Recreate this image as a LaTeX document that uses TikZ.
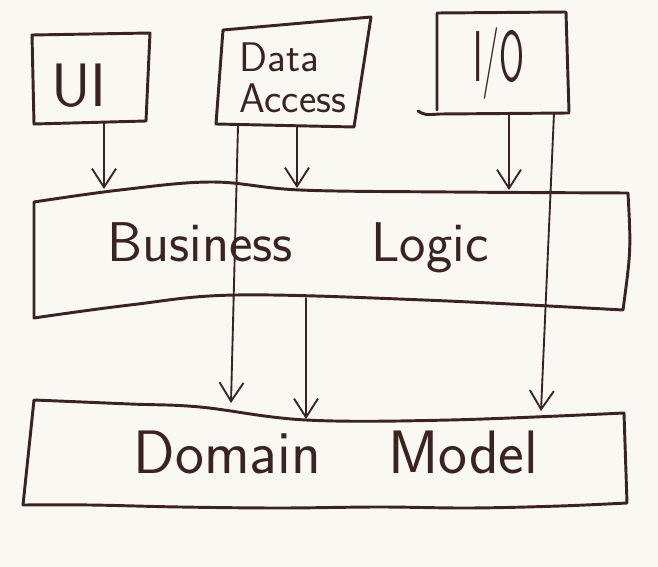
\documentclass[tikz,border=0pt]{standalone}
\usepackage{tikz}
\usetikzlibrary{arrows.meta}

\definecolor{ink}{HTML}{3A2320}
\definecolor{paper}{HTML}{FAF8F3}

\tikzset{
  pen/.style={draw=ink, line width=2.2pt, line join=round, line cap=round},
  arr/.style={draw=ink, line width=1.4pt, line cap=round,
    -{Straight Barb[length=14pt,width=18pt,line width=1.4pt]}},
  lbl/.style={text=ink, inner sep=0pt},
}

\begin{document}
\begin{tikzpicture}[x=0.75pt, y=-0.75pt]
    \fill[paper] (0,0) rectangle (658,567);
    \useasboundingbox (0,0) rectangle (658,567);

    % top boxes
    \draw[pen] (32,35) -- (150,33) -- (146,121) -- (34,124) -- cycle;
    \draw[pen] (223,30) -- (371,17) -- (354,127) -- (216,124) -- cycle;
    \draw[pen] (437,110) -- (437,13) -- (566,12) -- (569,112);
    \draw[pen] (418,111) .. controls (425,115) .. (440,114) -- (569,113);

    % business logic
    \draw[pen] plot[smooth, tension=0.6] coordinates {(34,202) (120,190) (212,182) (300,190) (450,192) (628,193)}
        .. controls (631,250) .. (623,310)
        -- plot[smooth, tension=0.6] coordinates {(623,310) (424,300) (236,295) (130,305) (34,318)} -- cycle;

    % domain model
    \draw[pen] plot[smooth, tension=0.6] coordinates {(34,400) (130,404) (200,407) (306,420) (450,420) (624,413)}
        -- (627,503)
        -- plot[smooth, tension=0.6] coordinates {(627,503) (560,506) (470,508) (380,507) (280,508) (180,507) (90,505) (23,505)} -- cycle;

    % labels
    \node[lbl, font=\sffamily\fontsize{46}{48}\selectfont] (ui) at (79,86) {UI};
    \node[lbl, font=\sffamily\fontsize{31}{31}\selectfont, align=left] (data) at (293,78) {Data\\Access};
    \node[lbl, font=\sffamily\fontsize{54}{56}\selectfont] (io) at (499,64) {\scalebox{0.5}[1]{I/O}};
    \node[lbl, font=\sffamily\fontsize{42}{44}\selectfont] (bl) at (298,248) {Business\hspace{1.4em}Logic};
    \node[lbl, font=\sffamily\fontsize{46}{48}\selectfont] (dm) at (336,452) {Domain\hspace{1.1em}Model};

    % arrow ends
    \coordinate (ui-out) at (104,123);
    \coordinate (bl-in1) at (104,189);
    \coordinate (da-out1) at (238,126);
    \coordinate (da-out2) at (297,127);
    \coordinate (bl-in2) at (297,188);
    \coordinate (io-out1) at (509,113);
    \coordinate (io-out2) at (554,113);
    \coordinate (bl-in3) at (509,190);
    \coordinate (bl-out) at (306,298);
    \coordinate (dm-in1) at (231,403);
    \coordinate (dm-in2) at (306,419);
    \coordinate (dm-in3) at (541,411);

    % arrows
    \draw[arr] (ui-out) -- (bl-in1);
    \draw[arr] (da-out2) -- (bl-in2);
    \draw[arr] (io-out1) -- (bl-in3);
    \draw[arr] (da-out1) -- (dm-in1);
    \draw[arr] (bl-out) -- (dm-in2);
    \draw[arr] (io-out2) -- (dm-in3);
\end{tikzpicture}
\end{document}
